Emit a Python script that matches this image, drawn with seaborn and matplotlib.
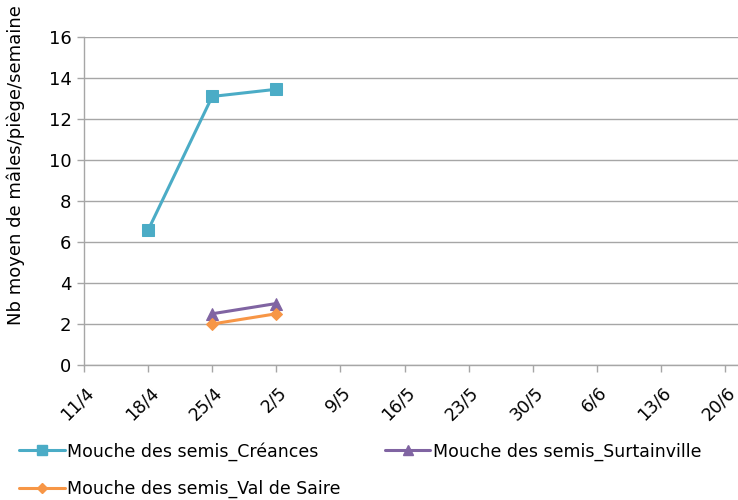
import matplotlib
matplotlib.use("Agg")
import matplotlib.pyplot as plt
import matplotlib.transforms as mtransforms
import seaborn as sns
import pandas as pd
import numpy as np

dates = ["11/4", "18/4", "25/4", "2/5", "9/5", "16/5", "23/5", "30/5", "6/6", "13/6", "20/6"]
creances_dates = ["18/4", "25/4", "2/5"]
creances_vals = [6.58, 13.1, 13.45]
surtainville_dates = ["25/4", "2/5"]
surtainville_vals = [2.5, 3.0]
valdesaire_dates = ["25/4", "2/5"]
valdesaire_vals = [2.0, 2.5]
series_names = ["Mouche des semis_Créances", "Mouche des semis_Surtainville", "Mouche des semis_Val de Saire"]
colors = ["#4BACC6", "#8064A2", "#F79646"]
markers = ["s", "^", "D"]

sns.set_theme(style="white")
plt.rcParams['font.family'] = ['DejaVu Sans']
plt.rcParams['text.color'] = 'black'
plt.rcParams['axes.labelcolor'] = 'black'
plt.rcParams['xtick.color'] = 'black'
plt.rcParams['ytick.color'] = 'black'

fig = plt.figure(figsize=(7.38, 5.0), dpi=100)
ax = fig.add_axes([84/738, 1-365/500, 1-84/738, 328/500])

pos = {d: i for i, d in enumerate(dates)}
frames = []
for name, ds, vs in [(series_names[0], creances_dates, creances_vals),
                     (series_names[1], surtainville_dates, surtainville_vals),
                     (series_names[2], valdesaire_dates, valdesaire_vals)]:
    frames.append(pd.DataFrame({"x": [pos[d] for d in ds], "y": vs, "serie": name}))
df = pd.concat(frames, ignore_index=True)

msizes = [9, 9, 6.5]
handles = []
for name, c, m, ms in zip(series_names, colors, markers, msizes):
    sub = df[df.serie == name]
    sns.lineplot(data=sub, x="x", y="y", ax=ax, color=c, marker=m, markersize=ms,
                 markeredgecolor=c, linewidth=2.2, legend=False)
    h, = ax.plot([], [], color=c, marker=m, markersize=ms * 0.75, markeredgecolor=c, linewidth=2.2)
    handles.append(h)

ax.set_xlim(0, 10.2)
ax.set_ylim(0, 16)
ax.set_yticks(np.arange(0, 17, 2))
ax.set_xticks(range(len(dates)))
ax.set_xticklabels(dates, rotation=45, ha="right", rotation_mode="anchor", fontsize=12.5)
ax.tick_params(axis="y", labelsize=13, length=5, width=1, color="#A6A6A6", labelcolor="black",
               direction="out", pad=4, left=True)
ax.tick_params(axis="x", length=5, width=1, color="#A6A6A6", labelcolor="black",
               direction="out", pad=6, bottom=True)
offset = mtransforms.ScaledTranslation(1/100, -3/100, fig.dpi_scale_trans)
for lab in ax.get_xticklabels():
    lab.set_transform(lab.get_transform() + offset)
ax.grid(axis="y", color="#A6A6A6", linewidth=1)
ax.grid(axis="x", visible=False)
for s in ["top", "right"]:
    ax.spines[s].set_visible(False)
for s in ["left", "bottom"]:
    ax.spines[s].set_color("#A6A6A6")
    ax.spines[s].set_linewidth(1)
ax.set_xlabel("")
ax.set_ylabel("Nb moyen de mâles/piège/semaine", fontsize=13, color="black")
ax.yaxis.set_label_coords(-0.09, 0.61)

leg = fig.legend([handles[0], handles[2], handles[1]],
                 [series_names[0], series_names[2], series_names[1]],
                 ncol=2, loc="upper left", bbox_to_anchor=(0.017, 0.13),
                 frameon=False, fontsize=12.5, handlelength=2.6, handletextpad=0.15,
                 columnspacing=2.55, labelspacing=1.1, borderaxespad=0)
for t in leg.get_texts():
    t.set_color("black")

fig.savefig("out.png", dpi=100)
